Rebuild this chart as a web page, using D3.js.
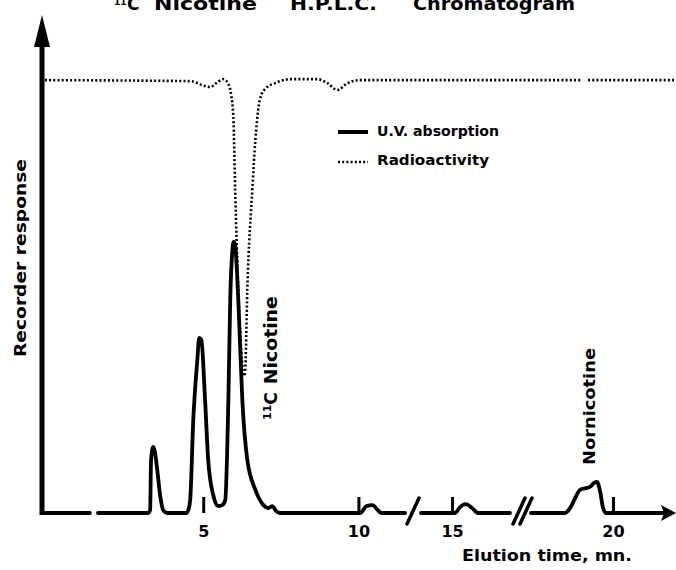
<!DOCTYPE html>
<html>
<head>
<meta charset="utf-8">
<script src="https://cdn.jsdelivr.net/npm/d3@7"></script>
<style>
  body { margin: 0; background: #fff; }
  svg { display: block; }
  text { font-family: "DejaVu Sans", sans-serif; font-weight: bold; fill: #000; }
</style>
</head>
<body>
<svg id="chart" width="676" height="570"></svg>
<script>
// values (time in min, response in arbitrary units)
// null marks a gap where the recorder trace is broken
const uvTime = [
  -0.19, 1.35, null,
  1.61, 3.23, 3.29, 3.32, 3.39, 3.44, 3.52, 3.61, 3.71, 3.84,
  4.45, 4.52, 4.58, 4.68, 4.81, 4.87, 4.94, 5.06, 5.16, 5.32, 5.48, 5.61,
  5.71, 5.81, 5.87, 5.94, 5.98, 6.03, 6.13, 6.26, 6.42, 6.68, 6.94, 7.10, 7.23, 7.35, 7.48,
  10.06, 10.26, 10.45, 10.65, 10.74, 11.52, null,
  14.0, 15.1, 15.26, 15.45, 15.65, 15.84, 16.87, null,
  17.4, 18.48, 18.64, 18.83, 18.95, 19.27, 19.40, 19.49, 19.59, 19.68, 19.78, 21.65
];
const uvResponse = [
  0, 0, null,
  0, 0, 0.6, 10.8, 13.4, 12.5, 8.7, 3.7, 0.6, 0,
  0, 0.6, 2.6, 18.9, 31.0, 35.5, 35.1, 22.9, 10.8, 3.7, 1.4, 1.6,
  2.6, 22.9, 43.2, 53.3, 55.0, 54.2, 43.2, 22.9, 10.8, 4.7, 1.6, 1.0, 1.4, 0.4, 0,
  0, 1.4, 1.6, 0.4, 0, 0, null,
  0, 0, 1.2, 1.8, 1.0, 0, 0, null,
  0, 0, 1.0, 3.4, 4.7, 5.3, 6.1, 6.3, 4.5, 1.2, 0, 0
];

const radioTime = [
  -0.1, 4.58, 5.06, 5.23, 5.42, 5.65, 5.81, 5.90, 5.97, 6.03, 6.13, 6.29, 6.32,
  6.35, 6.42, 6.58, 6.68, 6.77, 6.87, 7.03, 7.32, 7.81, 8.68, 9.0, 9.32, 9.65, 10.06,
  18.99, null, 19.21, 22.0
];
const radioResponse = [
  87.8, 87.6, 86.6, 86.4, 87.2, 88.0, 87.0, 84.8, 80.3, 65.5, 45.2, 28.6, 27.8,
  28.6, 45.2, 65.5, 75.7, 81.7, 84.8, 86.2, 87.2, 88.0, 88.0, 87.2, 85.8, 87.2, 87.8,
  87.8, null, 87.8, 87.8
];

const tickValues = [5, 10, 15, 20];
const tickLabels = ["5", "10", "15", "20"];
const axisBreaks = [12.75, 17.2];   // where the time axis is cut

const svg = d3.select("#chart");

// broken time axis: three pieces
const x = d3.scaleLinear()
  .domain([0, 11.5, 14.0, 17.0, 17.4, 22.0])
  .range([48, 405, 421, 514, 531, 676]);
const y = d3.scaleLinear().domain([0, 100]).range([513, 20]);

const uv = uvTime.map((t, i) => ({ t: t, v: uvResponse[i] }));
const radio = radioTime.map((t, i) => ({ t: t, v: radioResponse[i] }));

const line = d3.line()
  .defined(d => d.t !== null && d.v !== null)
  .x(d => x(d.t))
  .y(d => y(d.v))
  .curve(d3.curveMonotoneX);

// vertical axis with arrow
svg.append("line")
  .attr("x1", 42).attr("x2", 42)
  .attr("y1", y(0) + 2).attr("y2", 44)
  .attr("stroke", "#000").attr("stroke-width", 5);
svg.append("path")
  .attr("d", "M42,15 L34,47 L50,47 Z")
  .attr("fill", "#000");

// time axis ticks (drawn upward) and labels
const xAxis = d3.axisBottom(x)
  .tickValues(tickValues)
  .tickFormat((d, i) => tickLabels[i])
  .tickSize(-16)
  .tickPadding(13);
const gx = svg.append("g")
  .attr("transform", "translate(0," + y(0) + ")")
  .call(xAxis);
gx.select(".domain").remove();
gx.selectAll(".tick line").attr("stroke", "#000").attr("stroke-width", 3);
gx.selectAll(".tick text")
  .attr("font-size", 16)
  .attr("font-family", "DejaVu Sans, sans-serif")
  .attr("font-weight", "bold");

// UV trace (also forms the baseline)
svg.append("path")
  .datum(uv)
  .attr("d", line)
  .attr("fill", "none")
  .attr("stroke", "#000")
  .attr("stroke-width", 3.8)
  .attr("stroke-linejoin", "round")
  .attr("stroke-linecap", "round");

// arrow at the end of the time axis
const xe = x(22.0);
svg.append("path")
  .attr("d", `M${xe},${y(0)} L${xe - 15},${y(0) - 8} L${xe - 12},${y(0)} L${xe - 15},${y(0) + 8} Z`)
  .attr("fill", "#000");

// break marks
axisBreaks.forEach((b, i) => {
  const cx = x(b);
  const offs = i === 0 ? [0] : [-3.5, 3.5];
  offs.forEach(o => {
    svg.append("line")
      .attr("x1", cx + o - 6).attr("y1", y(0) + 11)
      .attr("x2", cx + o + 6).attr("y2", y(0) - 15)
      .attr("stroke", "#000").attr("stroke-width", 3.5)
      .attr("stroke-linecap", "round");
  });
});

// radioactivity trace
svg.append("path")
  .datum(radio)
  .attr("d", line)
  .attr("fill", "none")
  .attr("stroke", "#000")
  .attr("stroke-width", 2.6)
  .attr("stroke-dasharray", "2,2.2");

// legend
svg.append("line")
  .attr("x1", 338).attr("x2", 368).attr("y1", 132).attr("y2", 132)
  .attr("stroke", "#000").attr("stroke-width", 4);
svg.append("line")
  .attr("x1", 338).attr("x2", 368).attr("y1", 162).attr("y2", 162)
  .attr("stroke", "#000").attr("stroke-width", 2.6).attr("stroke-dasharray", "2,2.2");
svg.append("text").attr("x", 377).attr("y", 136).attr("font-size", 14)
  .attr("textLength", 122).attr("lengthAdjust", "spacingAndGlyphs")
  .text("U.V. absorption");
svg.append("text").attr("x", 377).attr("y", 165).attr("font-size", 14)
  .attr("textLength", 112).attr("lengthAdjust", "spacingAndGlyphs")
  .text("Radioactivity");

// title, cut off at the top of the scan
const title = svg.append("g").attr("font-size", 17);
title.append("text").attr("x", 114).attr("y", 5).attr("font-size", 9).text("11");
title.append("text").attr("x", 127).attr("y", 10).text("C");
title.append("text").attr("x", 154).attr("y", 10)
  .attr("textLength", 103).attr("lengthAdjust", "spacingAndGlyphs").text("Nicotine");
title.append("text").attr("x", 290).attr("y", 10)
  .attr("textLength", 87).attr("lengthAdjust", "spacingAndGlyphs").text("H.P.L.C.");
title.append("text").attr("x", 413).attr("y", 10)
  .attr("textLength", 162).attr("lengthAdjust", "spacingAndGlyphs").text("Chromatogram");

// axis titles
svg.append("text")
  .attr("transform", "translate(26,357) rotate(-90)")
  .attr("font-size", 15)
  .attr("textLength", 198).attr("lengthAdjust", "spacingAndGlyphs")
  .text("Recorder response");
svg.append("text")
  .attr("x", 462).attr("y", 561)
  .attr("font-size", 16)
  .attr("textLength", 170).attr("lengthAdjust", "spacingAndGlyphs")
  .text("Elution time, mn.");

// peak labels
const nic = svg.append("text")
  .attr("transform", "translate(277,420) rotate(-90)")
  .attr("font-size", 17);
nic.append("tspan").attr("font-size", 11).attr("dy", -6).text("11");
nic.append("tspan").attr("dy", 6).text("C");
nic.append("tspan").attr("dx", 8)
  .attr("textLength", 88).attr("lengthAdjust", "spacingAndGlyphs").text("Nicotine");

svg.append("text")
  .attr("transform", "translate(595,465) rotate(-90)")
  .attr("font-size", 16)
  .attr("textLength", 117).attr("lengthAdjust", "spacingAndGlyphs")
  .text("Nornicotine");
</script>
</body>
</html>
